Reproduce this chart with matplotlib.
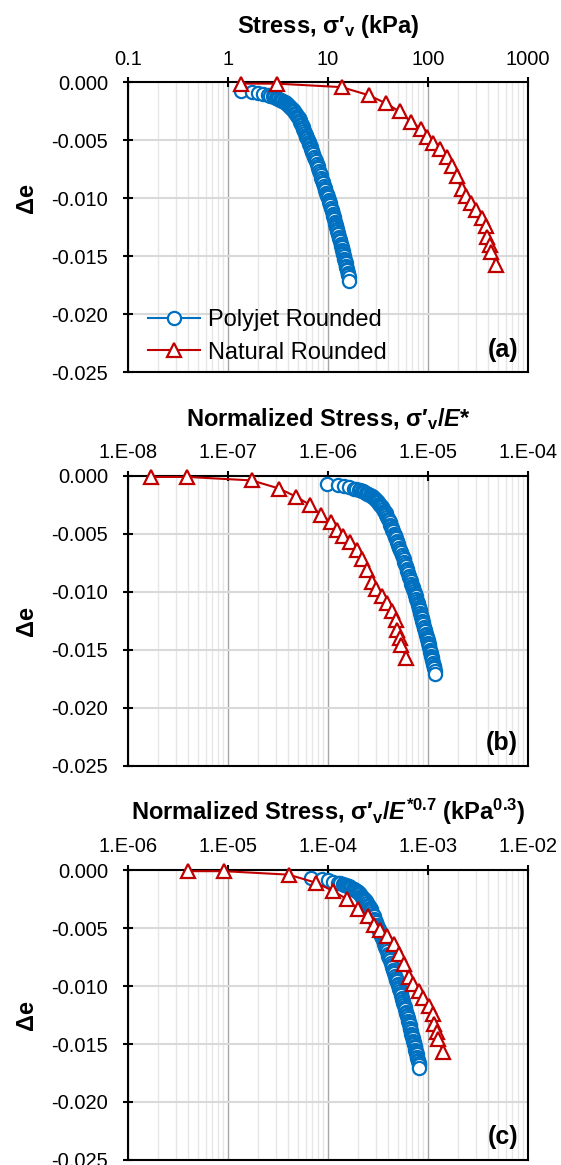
import numpy as np
import matplotlib
matplotlib.use("Agg")
import matplotlib.pyplot as plt
from matplotlib.ticker import LogLocator, FuncFormatter, MultipleLocator, NullFormatter

# Polyjet rounded: vertical stress (kPa) vs change in void ratio (dense logging)
stress_poly = [1.35, 1.75, 2.0, 2.25, 2.5, 2.65, 2.8, 2.9,
               3.0, 3.1, 3.2, 3.3, 3.4, 3.5, 3.6, 3.7, 3.8, 3.9,
               4.0, 4.1, 4.2, 4.3, 4.4, 4.5, 4.6, 4.7, 4.8, 4.9,
               5.0, 5.1, 5.2, 5.3, 5.4, 5.5, 5.6, 5.7, 5.8, 5.9,
               6.0, 6.1, 6.2, 6.3, 6.4, 6.5, 6.6, 6.7, 6.8, 6.9,
               7.0, 7.15, 7.3, 7.45, 7.6, 7.75, 7.9,
               8.0, 8.15, 8.3, 8.45, 8.6, 8.75, 8.9,
               9.0, 9.15, 9.3, 9.45, 9.6, 9.75, 9.9,
               10.0, 10.15, 10.3, 10.45, 10.6, 10.75, 10.9,
               11.0, 11.15, 11.3, 11.45, 11.6, 11.75, 11.9,
               12.0, 12.15, 12.3, 12.45, 12.6, 12.75, 12.9,
               13.0, 13.15, 13.3, 13.45, 13.6, 13.75, 13.9,
               14.0, 14.15, 14.3, 14.45, 14.6, 14.75, 14.9,
               15.0, 15.15, 15.3, 15.45, 15.6, 15.75, 15.9,
               16.0, 16.15, 16.3]
de_poly = [-0.0007, -0.0008, -0.0009, -0.0010, -0.0011, -0.00115, -0.0012, -0.00125,
           -0.0013, -0.00135, -0.0014, -0.00147, -0.00153, -0.0016, -0.00166, -0.00172, -0.00178, -0.00184,
           -0.0019, -0.0020, -0.0021, -0.0022, -0.0023, -0.0024, -0.0025, -0.0026, -0.0027, -0.00285,
           -0.0030, -0.0031, -0.00325, -0.0034, -0.00355, -0.0037, -0.00385, -0.0040, -0.0042, -0.00435,
           -0.0045, -0.0047, -0.0048, -0.0050, -0.0051, -0.0053, -0.0054, -0.0056, -0.0057, -0.0059,
           -0.0060, -0.0062, -0.0064, -0.0066, -0.0068, -0.0070, -0.0072,
           -0.0074, -0.0076, -0.0078, -0.0080, -0.0082, -0.0084, -0.0086,
           -0.0087, -0.0089, -0.0091, -0.0093, -0.0095, -0.0096, -0.0098,
           -0.0099, -0.0101, -0.0103, -0.0104, -0.0106, -0.0108, -0.0110,
           -0.0111, -0.0113, -0.0115, -0.0116, -0.0118, -0.0120, -0.0122,
           -0.0123, -0.0125, -0.0126, -0.0128, -0.0130, -0.0131, -0.0133,
           -0.0134, -0.0136, -0.0137, -0.0139, -0.0141, -0.0142, -0.0144,
           -0.0145, -0.0147, -0.0148, -0.0150, -0.0152, -0.0153, -0.0155,
           -0.0156, -0.0158, -0.0159, -0.0161, -0.0162, -0.0164, -0.0165,
           -0.0166, -0.0168, -0.0171]

# Natural rounded
stress_nat = [1.35, 3.1, 13.7, 25.7, 38, 52, 68, 85, 97, 113, 132, 154, 175, 194,
              217, 240, 272, 305, 344, 380, 392, 417, 427, 480]
de_nat = [-0.0001, -0.0001, -0.0004, -0.0011, -0.0018, -0.0025, -0.0034, -0.0040,
          -0.0047, -0.0052, -0.0057, -0.0064, -0.0072, -0.0081, -0.0092, -0.0098,
          -0.0104, -0.0110, -0.0117, -0.0124, -0.0133, -0.0140, -0.0146, -0.0157]

# effective moduli used for normalisation (kPa)
E_poly = 1.38e6
E_nat = 7.9e7

blue = "#0070C0"
red = "#C00000"

plt.rcParams['font.family'] = ['Liberation Sans', 'DejaVu Sans']
plt.rcParams['axes.unicode_minus'] = False
plt.rcParams['mathtext.fontset'] = 'custom'
plt.rcParams['mathtext.rm'] = 'Liberation Sans:bold'
plt.rcParams['mathtext.it'] = 'Liberation Sans:bold:italic'
plt.rcParams['mathtext.bf'] = 'Liberation Sans:bold'

sp = np.array(stress_poly)
sn = np.array(stress_nat)
panels = [
    (sp, sn, (0.1, 1000), lambda v, p: f"{v:g}",
     "Stress, σ′$_\\mathrm{v}$ (kPa)", "(a)"),
    (sp / E_poly, sn / E_nat, (1e-8, 1e-4),
     lambda v, p: f"1.E{int(round(np.log10(v))):03d}",
     "Normalized Stress, σ′$_\\mathrm{v}$/$\\mathit{E}$*", "(b)"),
    (sp / E_poly**0.7, sn / E_nat**0.7, (1e-6, 1e-2),
     lambda v, p: f"1.E{int(round(np.log10(v))):03d}",
     "Normalized Stress, σ′$_\\mathrm{v}$/$\\mathit{E}^{\\mathit{*0.7}}$ (kPa$^{\\mathrm{0.3}}$)", "(c)"),
]

fig = plt.figure(figsize=(5.61, 11.65), dpi=100)
bottoms = [0.6803, 0.3427, 0.0043]
ylab_y = [0.60, 0.5, 0.5]

for i, (xp, xn, xlim, fmt, title, tag) in enumerate(panels):
    ax = fig.add_axes([0.228, bottoms[i], 0.713, 0.2489])
    ax.plot(xp, de_poly, '-o', color=blue, lw=1.5, ms=9.5, mfc='white', mec=blue,
            mew=1.6, label='Polyjet Rounded', clip_on=False, zorder=3)
    ax.plot(xn, de_nat, '-^', color=red, lw=1.5, ms=10.5, mfc='white', mec=red,
            mew=1.6, label='Natural Rounded', clip_on=False, zorder=4)
    ax.set_xscale('log')
    ax.set_xlim(*xlim)
    ax.set_ylim(-0.025, 0)
    ax.xaxis.set_major_locator(LogLocator(base=10, numticks=10))
    ax.xaxis.set_minor_locator(LogLocator(base=10, subs=np.arange(2, 10), numticks=20))
    ax.xaxis.set_major_formatter(FuncFormatter(fmt))
    ax.xaxis.set_minor_formatter(NullFormatter())
    ax.yaxis.set_major_locator(MultipleLocator(0.005))
    ax.yaxis.set_major_formatter(FuncFormatter(lambda v, p: f"{0.0 if abs(v) < 1e-9 else v:.3f}"))
    ax.xaxis.tick_top()
    ax.xaxis.set_label_position('top')
    ax.tick_params(axis='x', which='major', direction='inout', length=7.5, width=1.5,
                   labelsize=14.5, pad=6, top=True, bottom=False)
    ax.tick_params(axis='x', which='minor', length=0)
    ax.tick_params(axis='y', which='major', direction='inout', length=7.5, width=1.5,
                   labelsize=14.5, pad=10.5)
    ax.grid(which='major', axis='x', color='#a6a6a6', lw=1)
    ax.grid(which='minor', axis='x', color='#e6e6e6', lw=1)
    ax.grid(which='major', axis='y', color='#d9d9d9', lw=1.5)
    ax.set_axisbelow(True)
    for s in ax.spines.values():
        s.set_linewidth(1.5)
    ax.set_xlabel(title, fontsize=17, fontweight='bold', labelpad=12.5)
    ax.set_ylabel('Δe', fontsize=17, fontweight='bold')
    ax.yaxis.set_label_coords(-0.225, ylab_y[i])
    ax.text(0.975, 0.078, tag, transform=ax.transAxes, ha='right', va='center',
            fontsize=18, fontweight='bold')
    if i == 0:
        ax.legend(loc='lower left', bbox_to_anchor=(0.05, 0.03), frameon=False,
                  fontsize=17, handlelength=2.2, handletextpad=0.35,
                  labelspacing=0.45, borderpad=0, borderaxespad=0)

fig.savefig("out.png", dpi=100)
